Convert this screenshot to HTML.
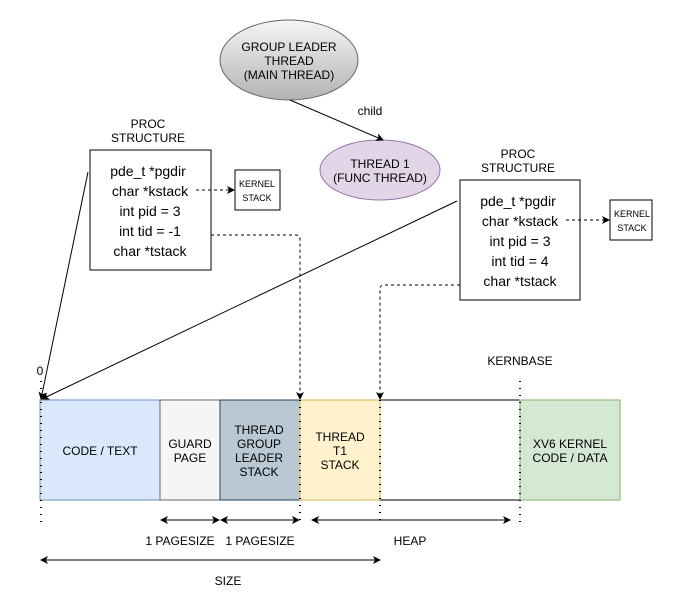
<!DOCTYPE html>
<html><head><meta charset="utf-8"><style>
html,body{margin:0;padding:0;background:#fff;}
svg{display:block;font-family:"Liberation Sans",sans-serif;}
</style></head><body>
<svg width="694" height="611" viewBox="0 0 694 611" xmlns="http://www.w3.org/2000/svg">
<defs>
<linearGradient id="g" x1="0" y1="0" x2="0" y2="1"><stop offset="0" stop-color="#f5f5f5"/><stop offset="1" stop-color="#b3b3b3"/></linearGradient>
<marker id="a" markerWidth="8" markerHeight="8" refX="7" refY="4" orient="auto" markerUnits="userSpaceOnUse"><path d="M0,0 L8,4 L0,8 L2,4 Z" fill="#000"/></marker>
<marker id="s" markerWidth="8" markerHeight="8" refX="1" refY="4" orient="auto" markerUnits="userSpaceOnUse"><path d="M8,0 L0,4 L8,8 L6,4 Z" fill="#000"/></marker>
</defs>
<g font-size="12" text-anchor="middle" fill="#000">
<ellipse cx="289" cy="60" rx="69" ry="40" fill="url(#g)" stroke="#666"/>
<text x="289" y="51">GROUP LEADER</text><text x="289" y="65">THREAD</text><text x="289" y="79">(MAIN THREAD)</text>
<ellipse cx="380" cy="170" rx="60" ry="30" fill="#e1d5e7" stroke="#9673a6"/>
<text x="380" y="168">THREAD 1</text><text x="380" y="182">(FUNC THREAD)</text>
<line x1="290" y1="100" x2="383" y2="140" stroke="#000" marker-end="url(#a)"/>
<text x="370" y="115">child</text>

<text x="148" y="128">PROC</text><text x="148" y="142">STRUCTURE</text>
<rect x="90" y="150" width="121" height="120" fill="#fff" stroke="#000"/>
<g font-size="14"><text x="148" y="176">pde_t *pgdir</text><text x="150" y="196">char *kstack</text><text x="150" y="216">int pid = 3</text><text x="150" y="236">int tid = -1</text><text x="150" y="256">char *tstack</text></g>
<rect x="235" y="170" width="45" height="40" fill="#fff" stroke="#000"/>
<g font-size="9"><text x="257" y="187">KERNEL</text><text x="257" y="201">STACK</text></g>
<line x1="196" y1="190" x2="234" y2="190" stroke="#000" stroke-dasharray="3,3" marker-end="url(#a)"/>

<text x="518" y="158">PROC</text><text x="518" y="172">STRUCTURE</text>
<rect x="460" y="180" width="120" height="120" fill="#fff" stroke="#000"/>
<g font-size="14"><text x="518" y="206">pde_t *pgdir</text><text x="520" y="226">char *kstack</text><text x="520" y="246">int pid = 3</text><text x="520" y="266">int tid = 4</text><text x="520" y="286">char *tstack</text></g>
<rect x="610" y="200" width="42" height="40" fill="#fff" stroke="#000"/>
<g font-size="9"><text x="632" y="217">KERNEL</text><text x="632" y="231">STACK</text></g>
<line x1="566" y1="220" x2="609" y2="220" stroke="#000" stroke-dasharray="3,3" marker-end="url(#a)"/>

<line x1="88" y1="172" x2="41" y2="399" stroke="#000" marker-end="url(#a)"/>
<line x1="457" y1="201" x2="42" y2="399" stroke="#000" marker-end="url(#a)"/>
<path d="M211,235 H296 Q300,235 300,239 V399" fill="none" stroke="#000" stroke-dasharray="3,3" marker-end="url(#a)"/>
<path d="M460,285 H384 Q380,285 380,289 V399" fill="none" stroke="#000" stroke-dasharray="3,3" marker-end="url(#a)"/>

<rect x="40" y="400" width="120" height="100" fill="#dae8fc" stroke="#6c8ebf"/>
<rect x="160" y="400" width="60" height="100" fill="#f5f5f5" stroke="#666"/>
<rect x="220" y="400" width="80" height="100" fill="#bac8d3" stroke="#23445d"/>
<rect x="300" y="400" width="80" height="100" fill="#fff2cc" stroke="#d6b656"/>
<line x1="380" y1="400" x2="520" y2="400" stroke="#000"/>
<line x1="380" y1="500" x2="520" y2="500" stroke="#000"/>
<rect x="520" y="400" width="100" height="100" fill="#d5e8d4" stroke="#82b366"/>
<g stroke="#000" stroke-width="2" stroke-dasharray="1,6">
<line x1="41" y1="381" x2="41" y2="522"/><line x1="300" y1="400" x2="300" y2="522"/><line x1="380" y1="400" x2="380" y2="522"/><line x1="520" y1="381" x2="520" y2="522"/>
</g>
<text x="100" y="455">CODE / TEXT</text>
<text x="190" y="448">GUARD</text><text x="190" y="462">PAGE</text>
<text x="259" y="434">THREAD</text><text x="259" y="448">GROUP</text><text x="259" y="462">LEADER</text><text x="259" y="476">STACK</text>
<text x="340" y="441">THREAD</text><text x="340" y="455">T1</text><text x="340" y="469">STACK</text>
<text x="570" y="448">XV6 KERNEL</text><text x="570" y="462">CODE / DATA</text>
<text x="40" y="375">0</text><text x="520" y="365">KERNBASE</text>
<g stroke="#000" marker-start="url(#s)" marker-end="url(#a)">
<line x1="161" y1="520" x2="219" y2="520"/><line x1="221" y1="520" x2="299" y2="520"/><line x1="312" y1="520" x2="510" y2="520"/><line x1="41" y1="560" x2="380" y2="560"/>
</g>
<text x="180" y="545">1 PAGESIZE</text><text x="260" y="545">1 PAGESIZE</text><text x="410" y="545">HEAP</text><text x="228" y="585">SIZE</text>
</g>
</svg>
</body></html>
